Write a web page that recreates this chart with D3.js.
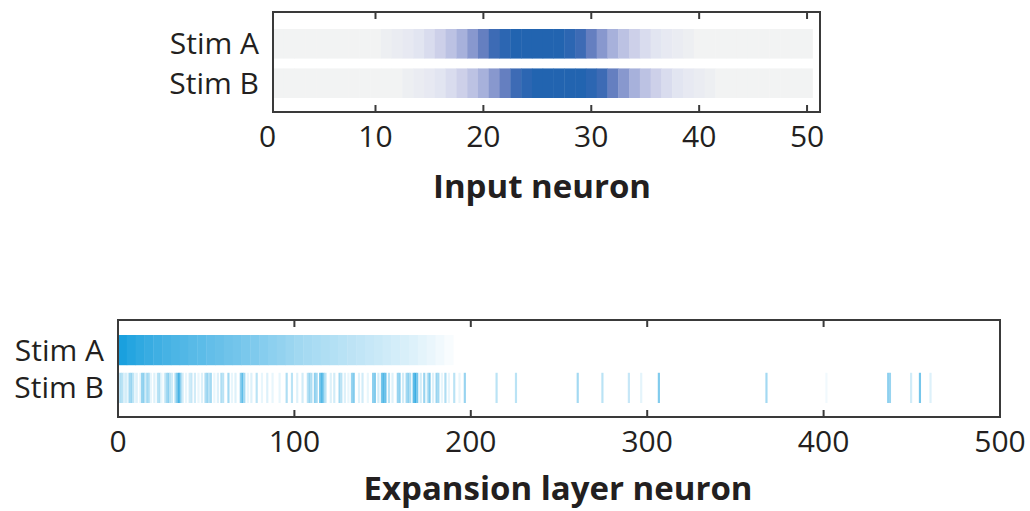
<!DOCTYPE html>
<html>
<head>
<meta charset="utf-8">
<script src="https://cdn.jsdelivr.net/npm/d3@7"></script>
<style>
  html, body { margin: 0; padding: 0; background: #fff; }
  svg { display: block; font-family: "Open Sans", sans-serif; }
  .lbl { fill: #231f20; }
</style>
</head>
<body>
<svg id="chart" width="1030" height="511"></svg>
<script>
// ─── Data ───────────────────────────────────────────────────────────────────
const rowLabels = ['Stim A', 'Stim B'];

// Input layer: activity of neurons 1..50 (0..1)
const inputStimA = [
  0, 0, 0, 0, 0, 0, 0, 0, 0, 0,
  0.04, 0.07, 0.10, 0.14, 0.20, 0.27, 0.36, 0.47, 0.60, 0.73,
  0.86, 0.95, 1, 1, 1, 1, 1, 0.95, 0.86, 0.73,
  0.60, 0.47, 0.36, 0.27, 0.20, 0.14, 0.10, 0.07, 0.04, 0,
  0, 0, 0, 0, 0, 0, 0, 0, 0, 0
];
const inputStimB = [
  0, 0, 0, 0, 0, 0, 0, 0, 0, 0,
  0, 0, 0.04, 0.07, 0.10, 0.14, 0.20, 0.27, 0.36, 0.47,
  0.60, 0.73, 0.86, 0.95, 1, 1, 1, 1, 1, 0.95,
  0.86, 0.73, 0.60, 0.47, 0.36, 0.27, 0.20, 0.14, 0.10, 0.07,
  0.04, 0, 0, 0, 0, 0, 0, 0, 0, 0
];
const inputTicks = [0, 10, 20, 30, 40, 50];

// Expansion layer, Stim A: sorted activity, one value per bin of 5 neurons
const expBinSize = 5;
const expStimABins = [
  1.00, 0.95, 0.91, 0.87, 0.84, 0.81, 0.78, 0.76, 0.73, 0.71,
  0.68, 0.66, 0.63, 0.61, 0.58, 0.56, 0.53, 0.50, 0.47, 0.44,
  0.41, 0.39, 0.37, 0.35, 0.33, 0.31, 0.29, 0.27, 0.25, 0.23,
  0.21, 0.19, 0.17, 0.15, 0.12, 0.09, 0.06, 0.03
];
// Expansion layer, Stim B: [neuron, activity] for active neurons
const expStimB = [
  [1, 0.25], [2, 0.35], [3, 0.3], [4, 0.15], [5, 0.2], [6, 0.1], [7, 0.4], [8, 0.45], [9, 0.3],
  [10, 0.1], [11, 0.15], [13, 0.1], [14, 0.45], [15, 0.5], [16, 0.2], [17, 0.4], [18, 0.35],
  [19, 0.1], [21, 0.15], [23, 0.3], [24, 0.35], [25, 0.1], [27, 0.2], [28, 0.4], [29, 0.5],
  [30, 0.3], [31, 0.2], [33, 0.35], [34, 0.6], [35, 0.8], [36, 0.5], [37, 0.2], [39, 0.1],
  [41, 0.2], [42, 0.25], [44, 0.2], [46, 0.1], [48, 0.15], [50, 0.35], [51, 0.45], [52, 0.3],
  [53, 0.4], [55, 0.1], [57, 0.15], [59, 0.35], [60, 0.3], [63, 0.4], [65, 0.1], [67, 0.15],
  [70, 0.5], [71, 0.7], [72, 0.4], [74, 0.1], [76, 0.15], [79, 0.3], [82, 0.1], [85, 0.15],
  [88, 0.1], [92, 0.1], [96, 0.35], [99, 0.3], [102, 0.15], [105, 0.2], [108, 0.3], [109, 0.45],
  [110, 0.35], [112, 0.5], [113, 0.4], [115, 0.6], [116, 0.75], [117, 0.55], [118, 0.3],
  [121, 0.15], [123, 0.2], [126, 0.4], [127, 0.3], [129, 0.15], [131, 0.1], [133, 0.45],
  [134, 0.55], [137, 0.15], [139, 0.2], [142, 0.1], [145, 0.5], [146, 0.55], [148, 0.2],
  [150, 0.6], [151, 0.75], [152, 0.65], [154, 0.3], [156, 0.15], [159, 0.45], [160, 0.5],
  [162, 0.2], [164, 0.4], [165, 0.5], [166, 0.35], [168, 0.7], [169, 0.85], [170, 0.6],
  [172, 0.2], [174, 0.45], [176, 0.3], [177, 0.55], [179, 0.15], [181, 0.45], [182, 0.4],
  [184, 0.1], [186, 0.35], [188, 0.1], [191, 0.3], [194, 0.1], [197, 0.45],
  [215, 0.3], [226, 0.3], [261, 0.4], [275, 0.3], [290, 0.25], [297, 0.12], [307, 0.55],
  [368, 0.4], [402, 0.06], [437, 0.5], [438, 0.45], [450, 0.2], [455, 0.6], [461, 0.15]
];
const expTicks = [0, 100, 200, 300, 400, 500];

// ─── Setup ──────────────────────────────────────────────────────────────────
const svg = d3.select('#chart');
const INK = '#3a3a3a';
const FONT = 30;

const inputColor = d3.scaleLinear()
  .domain([0, 0.15, 0.3, 0.5, 0.7, 0.85, 1])
  .range(['#f2f3f3', '#e1e4f1', '#c8cbe7', '#a1acd9', '#6e84c3', '#3f6bb5', '#2264b0'])
  .clamp(true);
const expColor = d3.scaleLinear()
  .domain([0, 1])
  .range(['#ffffff', '#1aa0de'])
  .clamp(true);

// Generic panel: box, rows, ticks, labels
function panel(opts) {
  const g = svg.append('g');
  const x = opts.x, y = opts.y;
  const [x0, x1] = x.range();

  // heat cells
  opts.rows.forEach((cells, i) => {
    g.append('g').selectAll('rect')
      .data(cells)
      .join('rect')
        .attr('x', d => x(d.a))
        .attr('width', d => x(d.b) - x(d.a) + 0.4)
        .attr('y', y(rowLabels[i]))
        .attr('height', y.bandwidth())
        .attr('fill', d => opts.color(d.v));
  });

  // box
  g.append('rect')
    .attr('x', x0).attr('y', opts.top)
    .attr('width', x1 - x0).attr('height', opts.bottom - opts.top)
    .attr('fill', 'none').attr('stroke', INK).attr('stroke-width', 2);

  // inward ticks on top and bottom edges
  const inner = opts.ticks.filter(t => x(t) > x0 + 2 && x(t) < x1 - 2);
  g.append('g').selectAll('line.t')
    .data(inner)
    .join('line')
      .attr('x1', d => x(d)).attr('x2', d => x(d))
      .attr('y1', opts.top).attr('y2', opts.top + 7)
      .attr('stroke', INK).attr('stroke-width', 2);
  g.append('g').selectAll('line.b')
    .data(inner)
    .join('line')
      .attr('x1', d => x(d)).attr('x2', d => x(d))
      .attr('y1', opts.bottom).attr('y2', opts.bottom - 7)
      .attr('stroke', INK).attr('stroke-width', 2);

  // tick labels
  g.append('g').selectAll('text')
    .data(opts.ticks)
    .join('text')
      .attr('class', 'lbl')
      .attr('x', d => x(d))
      .attr('y', opts.bottom + 35)
      .attr('text-anchor', 'middle')
      .attr('font-size', FONT)
      .text(d => d);

  // row labels
  g.append('g').selectAll('text')
    .data(rowLabels)
    .join('text')
      .attr('class', 'lbl')
      .attr('x', x0 - 14)
      .attr('y', d => y(d) + y.bandwidth() / 2)
      .attr('dy', '0.35em')
      .attr('text-anchor', 'end')
      .attr('font-size', FONT)
      .text(d => d);

  // axis title
  g.append('text')
    .attr('class', 'lbl')
    .attr('x', opts.titleX)
    .attr('y', opts.bottom + opts.titleGap)
    .attr('text-anchor', 'middle')
    .attr('font-size', 33)
    .attr('font-weight', 'bold')
    .text(opts.title);
}

// ─── Input layer ────────────────────────────────────────────────────────────
const xIn = d3.scaleLinear().domain([0.5, 51.2]).range([273, 820]);
const yIn = d3.scaleBand().domain(rowLabels).range([29, 98]).paddingInner(0.25);
const inCells = arr => arr.map((v, i) => ({ a: i + 0.5, b: i + 1.5, v }));
panel({
  x: xIn, y: yIn, top: 12, bottom: 112,
  rows: [inCells(inputStimA), inCells(inputStimB)],
  color: inputColor, ticks: inputTicks,
  title: 'Input neuron', titleX: 542, titleGap: 86
});

// ─── Expansion layer ────────────────────────────────────────────────────────
const xEx = d3.scaleLinear().domain([0, 500]).range([118, 1000]);
const yEx = d3.scaleBand().domain(rowLabels).range([335, 403]).paddingInner(0.2);
const exA = expStimABins.map((v, i) => ({ a: i * expBinSize, b: (i + 1) * expBinSize, v }));
const exB = expStimB.map(([n, v]) => ({ a: n - 1, b: n, v }));
panel({
  x: xEx, y: yEx, top: 320, bottom: 417,
  rows: [exA, exB],
  color: expColor, ticks: expTicks,
  title: 'Expansion layer neuron', titleX: 558, titleGap: 83
});
</script>
</body>
</html>
